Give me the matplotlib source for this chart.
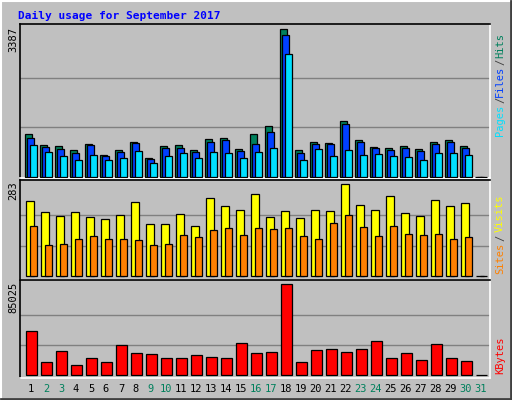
import matplotlib
matplotlib.use("Agg")
import matplotlib.pyplot as plt

days = list(range(1, 32))
day_labels = [str(d) for d in days]
weekend = [2, 3, 9, 10, 16, 17, 23, 24, 30, 31]

hits = [981, 720, 697, 605, 743, 490, 605, 789, 421, 697, 720, 605, 858, 881, 628,
        973, 1157, 3387, 605, 789, 766, 1272, 835, 674, 651, 697, 628, 789, 835, 697, 0]
files = [881, 674, 628, 536, 720, 467, 559, 766, 398, 651, 651, 559, 789, 835, 582,
         743, 1019, 3249, 536, 743, 743, 1203, 789, 651, 605, 651, 582, 743, 789, 651, 0]
pages = [720, 559, 467, 375, 490, 375, 421, 582, 306, 467, 536, 421, 559, 536, 421,
         559, 651, 2812, 375, 628, 467, 605, 490, 513, 467, 444, 375, 536, 536, 490, 0]
visits = [231, 197, 185, 197, 181, 175, 188, 228, 160, 160, 191, 154, 240, 215, 203,
          252, 181, 200, 178, 203, 200, 283, 218, 203, 246, 194, 185, 234, 215, 225, 0]
sites = [154, 95, 101, 114, 123, 114, 114, 111, 95, 98, 126, 120, 141, 148, 126,
         148, 145, 148, 123, 114, 163, 188, 151, 123, 154, 129, 126, 129, 114, 120, 0]
kbytes = [41105, 12145, 22421, 9342, 15881, 12145, 28026, 20552, 19618, 15881, 15881,
          18684, 16816, 15881, 29894, 20552, 21487, 85025, 12145, 23355, 24289, 21487,
          24289, 31763, 15881, 20552, 14013, 28960, 15881, 13079, 0]

BG = "#C0C0C0"
GRID = "#808080"
C_HITS, C_FILES, C_PAGES = "#00805C", "#0040FF", "#00E0FF"
C_VIS, C_SITES, C_KB = "#FFFF00", "#FF8000", "#FF0000"
WKND = "#00805C"
MONO = "DejaVu Sans Mono"

W, H = 512, 400
fig = plt.figure(figsize=(5.12, 4.0), dpi=100, facecolor=BG)

# outer bevel
bev = fig.add_axes([0, 0, 1, 1], facecolor="none")
bev.set_xlim(0, W); bev.set_ylim(H, 0); bev.axis("off")
bev.plot([1, W - 1], [1, 1], color="white", lw=1.5)
bev.plot([1, 1], [1, H - 1], color="white", lw=1.5)
bev.plot([W - 1, W - 1], [1, H - 1], color="#404040", lw=2)
bev.plot([1, W - 1], [H - 1, H - 1], color="#404040", lw=2)

def make_ax(top, bottom):
    ax = fig.add_axes([20 / W, 1 - bottom / H, 470 / W, (bottom - top) / H], facecolor=BG)
    ax.set_xlim(0.267, 31.6)
    ax.set_xticks([]); ax.set_yticks([])
    for s in ["top", "left"]:
        ax.spines[s].set_color("black")
    for s in ["bottom", "right"]:
        ax.spines[s].set_color("white")
    for s in ax.spines.values():
        s.set_linewidth(1.2)
    return ax

bw = 7 / 15
kw = dict(edgecolor="black", linewidth=0.9, zorder=3)

ax1 = make_ax(24, 178)
ax1.set_ylim(-30, 3500)
for g in (1129, 2258):
    ax1.axhline(g, color=GRID, lw=1, zorder=1)
ax1.bar([d - 2.5 / 15 for d in days], hits, width=bw, color=C_HITS, **kw)
ax1.bar([d for d in days], files, width=bw, color=C_FILES, **kw)
ax1.bar([d + 2.2 / 15 for d in days], pages, width=bw, color=C_PAGES, **kw)

ax2 = make_ax(180, 280)
ax2.set_ylim(-11, 296)
for g in (94, 189):
    ax2.axhline(g, color=GRID, lw=1, zorder=1)
ax2.bar([d - 1.3 / 15 for d in days], visits, width=8.3 / 15, color=C_VIS, **kw)
ax2.bar([d + 2.2 / 15 for d in days], sites, width=bw, color=C_SITES, **kw)

ax3 = make_ax(280, 378)
ax3.set_ylim(-2500, 89000)
for g in (28342, 56683):
    ax3.axhline(g, color=GRID, lw=1, zorder=1)
ax3.bar([d + 0.3 / 15 for d in days], kbytes, width=10.5 / 15, color=C_KB, **kw)

# texts
fs = 7.5
fig.text(18 / W, 1 - 16 / H, "Daily usage for September 2017", color="#0000FF",
         family=MONO, fontweight="bold", fontsize=8, va="center", ha="left")
fig.text(13 / W, 1 - 40 / H, "3387", rotation=90, family=MONO, fontsize=fs, ha="center", va="center")
fig.text(13 / W, 1 - 191 / H, "283", rotation=90, family=MONO, fontsize=fs, ha="center", va="center")
fig.text(13 / W, 1 - 297 / H, "85025", rotation=90, family=MONO, fontsize=fs, ha="center", va="center")

def vtext(y, s, c):
    fig.text(500 / W, 1 - y / H, s, rotation=90, family=MONO, fontsize=fs, color=c,
             ha="center", va="center")

vtext(120, "Pages", C_PAGES); vtext(100, "/", "#404040"); vtext(81, "Files", C_FILES)
vtext(62, "/", "#404040"); vtext(45, "Hits", C_HITS)
vtext(258, "Sites", C_SITES); vtext(238, "/", "#404040"); vtext(213, "Visits", C_VIS)
vtext(355, "KBytes", C_KB)

for d, lab in zip(days, day_labels):
    x = (20 + (d - 0.267) * 15) / W
    fig.text(x, 1 - 389 / H, lab, family=MONO, fontsize=fs, ha="center", va="center",
             color=WKND if d in weekend else "black")

fig.savefig("out.png", dpi=100, facecolor=BG)
